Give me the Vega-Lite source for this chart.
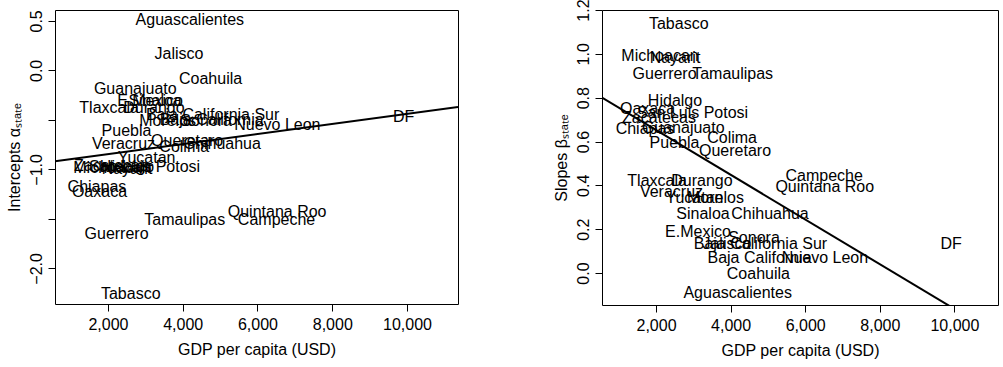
{
  "$schema": "https://vega.github.io/schema/vega-lite/v6.json",
  "padding": {"left": 5, "top": -2, "right": 0, "bottom": 0},
  "background": "white",
  "config": {
    "font": "Liberation Sans",
    "view": {"stroke": "black", "strokeWidth": 1},
    "axis": {
      "domain": false, "grid": false, "ticks": true, "tickColor": "black", "tickSize": 7, "tickWidth": 1,
      "labelFont": "Liberation Sans", "labelFontSize": 16, "labelColor": "black",
      "titleFont": "Liberation Sans", "titleFontSize": 16, "titleFontWeight": "normal", "titleColor": "black"
    },
    "concat": {"spacing": 144}
  },
  "bounds": "flush",
  "spacing": 144,
  "datasets": {
    "states": [
      {"state": "Aguascalientes", "gdp": 4190, "alpha": 0.507, "beta": -0.091},
      {"state": "Baja California", "gdp": 4775, "alpha": -0.50, "beta": 0.068},
      {"state": "Baja California Sur", "gdp": 4800, "alpha": -0.451, "beta": 0.132},
      {"state": "Campeche", "gdp": 6510, "alpha": -1.514, "beta": 0.443},
      {"state": "Coahuila", "gdp": 4745, "alpha": -0.087, "beta": -0.005},
      {"state": "Colima", "gdp": 4040, "alpha": -0.775, "beta": 0.616},
      {"state": "Chiapas", "gdp": 1705, "alpha": -1.18, "beta": 0.658},
      {"state": "Chihuahua", "gdp": 5056, "alpha": -0.745, "beta": 0.269},
      {"state": "DF", "gdp": 9910, "alpha": -0.472, "beta": 0.132},
      {"state": "Durango", "gdp": 3230, "alpha": -0.38, "beta": 0.42},
      {"state": "Guanajuato", "gdp": 2730, "alpha": -0.188, "beta": 0.662},
      {"state": "Guerrero", "gdp": 2230, "alpha": -1.656, "beta": 0.909},
      {"state": "Hidalgo", "gdp": 2509, "alpha": -0.98, "beta": 0.785},
      {"state": "Jalisco", "gdp": 3900, "alpha": 0.166, "beta": 0.132},
      {"state": "E.Mexico", "gdp": 3126, "alpha": -0.31, "beta": 0.187},
      {"state": "Michoacan", "gdp": 2107, "alpha": -0.99, "beta": 0.991},
      {"state": "Morelos", "gdp": 3595, "alpha": -0.512, "beta": 0.342},
      {"state": "Nayarit", "gdp": 2509, "alpha": -1.0, "beta": 0.982},
      {"state": "Nuevo Leon", "gdp": 6531, "alpha": -0.548, "beta": 0.068},
      {"state": "Oaxaca", "gdp": 1772, "alpha": -1.23, "beta": 0.749},
      {"state": "Puebla", "gdp": 2495, "alpha": -0.613, "beta": 0.594},
      {"state": "Queretaro", "gdp": 4118, "alpha": -0.715, "beta": 0.557},
      {"state": "Quintana Roo", "gdp": 6525, "alpha": -1.433, "beta": 0.393},
      {"state": "San Luis Potosi", "gdp": 2979, "alpha": -0.975, "beta": 0.731},
      {"state": "Sinaloa", "gdp": 3260, "alpha": -0.31, "beta": 0.269},
      {"state": "Sonora", "gdp": 4627, "alpha": -0.51, "beta": 0.16},
      {"state": "Tabasco", "gdp": 2610, "alpha": -2.263, "beta": 1.137},
      {"state": "Tamaulipas", "gdp": 4055, "alpha": -1.514, "beta": 0.909},
      {"state": "Tlaxcala", "gdp": 2030, "alpha": -0.38, "beta": 0.42},
      {"state": "Veracruz", "gdp": 2415, "alpha": -0.745, "beta": 0.37},
      {"state": "Yucatan", "gdp": 3032, "alpha": -0.887, "beta": 0.342},
      {"state": "Zacatecas", "gdp": 2080, "alpha": -0.97, "beta": 0.708}
    ],
    "lineA": [{"gdp": 583, "fit": -0.917}, {"gdp": 11364, "fit": -0.370}],
    "lineB": [{"gdp": 552, "fit": 0.80}, {"gdp": 11169, "fit": -0.283}]
  },
  "hconcat": [
    {
      "width": 403,
      "height": 294,
      "layer": [
        {
          "data": {"name": "states"},
          "mark": {"type": "text", "fontSize": 16, "font": "Liberation Sans", "color": "black", "align": "center", "baseline": "middle"},
          "encoding": {
            "x": {"field": "gdp", "type": "quantitative", "scale": {"domain": [583, 11364], "nice": false, "zero": false},
                  "axis": {"values": [2000, 4000, 6000, 8000, 10000], "labelExpr": "format(datum.value, ',.0f')", "labelPadding": 5, "title": "GDP per capita (USD)", "titlePadding": 9}},
            "y": {"field": "alpha", "type": "quantitative", "scale": {"domain": [-2.36, 0.61], "nice": false, "zero": false},
                  "axis": {"values": [-2, -1.5, -1, -0.5, 0, 0.5], "labelExpr": "datum.value == -0.5 || datum.value == -1.5 ? '' : format(datum.value, '.1f')",
                           "labelAngle": 270, "labelAlign": "center", "labelBaseline": "bottom", "labelPadding": 4,
                           "title": "Intercepts αₛₜₐₜₑ", "titlePadding": 6}},
            "text": {"field": "state"}
          }
        },
        {
          "data": {"name": "lineA"},
          "mark": {"type": "line", "color": "black", "strokeWidth": 2, "clip": true},
          "encoding": {
            "x": {"field": "gdp", "type": "quantitative"},
            "y": {"field": "fit", "type": "quantitative"}
          }
        }
      ]
    },
    {
      "width": 396,
      "height": 295,
      "layer": [
        {
          "data": {"name": "states"},
          "mark": {"type": "text", "fontSize": 16, "font": "Liberation Sans", "color": "black", "align": "center", "baseline": "middle"},
          "encoding": {
            "x": {"field": "gdp", "type": "quantitative", "scale": {"domain": [552, 11169], "nice": false, "zero": false},
                  "axis": {"values": [2000, 4000, 6000, 8000, 10000], "labelExpr": "format(datum.value, ',.0f')", "labelPadding": 5, "title": "GDP per capita (USD)", "titlePadding": 9}},
            "y": {"field": "beta", "type": "quantitative", "scale": {"domain": [-0.146, 1.2], "nice": false, "zero": false},
                  "axis": {"values": [0, 0.2, 0.4, 0.6, 0.8, 1.0, 1.2], "labelExpr": "format(datum.value, '.1f')",
                           "labelAngle": 270, "labelAlign": "center", "labelBaseline": "bottom", "labelPadding": 4,
                           "title": "Slopes βₛₜₐₜₑ", "titlePadding": 6}},
            "text": {"field": "state"}
          }
        },
        {
          "data": {"name": "lineB"},
          "mark": {"type": "line", "color": "black", "strokeWidth": 2, "clip": true},
          "encoding": {
            "x": {"field": "gdp", "type": "quantitative"},
            "y": {"field": "fit", "type": "quantitative"}
          }
        }
      ]
    }
  ]
}
